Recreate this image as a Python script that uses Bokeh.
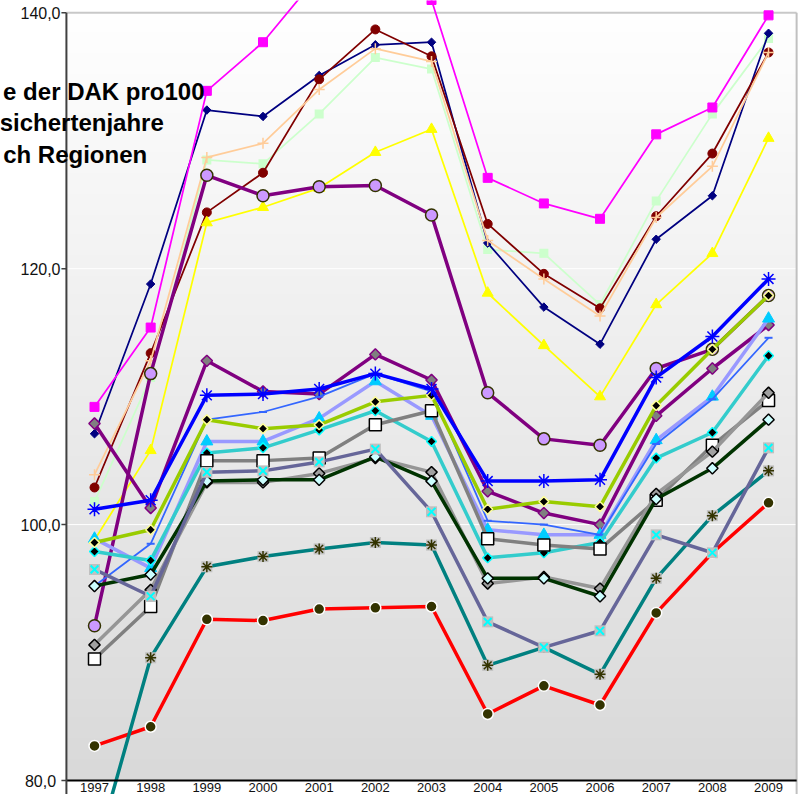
import numpy as np
from bokeh.plotting import figure
from bokeh.models import Range1d
from bokeh.core.properties import value
from bokeh.embed import file_html
from bokeh.resources import INLINE

# ---------------- data ----------------
years = [1997, 1998, 1999, 2000, 2001, 2002, 2003, 2004, 2005, 2006, 2007, 2008, 2009]
x_labels = [str(y) for y in years]
y_ticks = [80, 100, 120, 140]
y_labels = ["80,0", "100,0", "120,0", "140,0"]
title_lines = ["e der DAK pro100", "sichertenjahre", "ch Regionen"]

lightgreen = [101.8, 111.5, 128.5, 128.2, 132.1, 136.5, 135.6, 121.5, 121.2, 117.2, 125.3, 132.1, 138.0]
navy = [107.1, 118.8, 132.4, 131.9, 135.1, 137.5, 137.7, 122.0, 117.0, 114.1, 122.3, 125.7, 138.4]
darkred = [102.9, 113.4, 124.4, 127.5, 134.8, 138.7, 136.6, 123.5, 119.6, 116.9, 124.1, 129.0, 136.9]
peach = [103.9, 112.8, 128.7, 129.8, 134.0, 137.2, 136.2, 122.2, 119.2, 116.3, 124.0, 128.0, 136.9]
magenta = [109.2, 115.4, 133.9, 137.7, 143.0, 144.5, 141.0, 127.1, 125.1, 123.9, 130.5, 132.6, 139.8]
yellow = [98.8, 105.8, 123.6, 124.8, 126.3, 129.1, 130.9, 118.1, 114.0, 110.0, 117.2, 121.2, 130.2]
purple_circ = [92.1, 111.8, 127.3, 125.7, 126.4, 126.5, 124.2, 110.3, 106.7, 106.2, 112.2, 113.7, 117.9]
purple_diam = [107.9, 101.3, 112.8, 110.4, 110.2, 113.3, 111.3, 102.6, 100.9, 100.0, 108.5, 112.2, 115.6]
periwinkle = [98.9, 96.6, 106.5, 106.5, 108.3, 111.2, 108.5, 99.6, 99.2, 99.2, 106.6, 110.0, 116.1]
blue_thin = [95.2, 98.5, 108.2, 108.8, 110.0, 111.8, 110.4, 100.3, 100.0, 99.2, 106.3, 109.8, 114.6]
turquoise = [97.9, 97.2, 105.6, 106.0, 107.4, 108.9, 106.5, 97.4, 97.8, 98.6, 105.2, 107.2, 113.2]
gray_sq = [89.5, 93.6, 105.0, 105.0, 105.2, 107.8, 108.9, 98.9, 98.4, 98.1, 101.9, 106.2, 109.7]
gray_diam = [90.6, 94.9, 103.3, 103.3, 104.0, 105.2, 104.1, 95.4, 95.9, 95.0, 102.4, 105.7, 110.3]
dgreen = [95.2, 96.1, 103.4, 103.5, 103.5, 105.3, 103.4, 95.8, 95.8, 94.4, 102.0, 104.4, 108.2]
ygreen = [98.6, 99.6, 108.2, 107.5, 107.8, 109.6, 110.1, 101.2, 101.8, 101.4, 109.3, 113.7, 117.9]
blue_star = [101.2, 101.9, 110.1, 110.2, 110.6, 111.8, 110.6, 103.4, 103.4, 103.5, 111.5, 114.7, 119.2]
red = [82.7, 84.2, 92.6, 92.5, 93.4, 93.5, 93.6, 85.2, 87.4, 85.9, 93.1, 97.8, 101.7]
teal = [74.0, 89.6, 96.7, 97.5, 98.1, 98.6, 98.4, 89.0, 90.4, 88.3, 95.8, 100.7, 104.2]
slate = [96.5, 94.4, 104.1, 104.2, 104.9, 105.9, 101.0, 92.4, 90.4, 91.7, 99.2, 97.8, 106.0]

# ---------------- layout (pixels on the canvas) ----------------
W, H = 803, 794
X_FIRST_PX = 94.0      # canvas x of the first category centre
UX = 56.17             # pixels per category
Y_TOP_PX = 12.3        # canvas y of the top tick value
Y_BOT_PX = 780.0       # canvas y of the bottom tick value
UY = (Y_BOT_PX - Y_TOP_PX) / (y_ticks[-1] - y_ticks[0])

x_start = years[0] - X_FIRST_PX / UX
x_end = x_start + W / UX
y_end = y_ticks[-1] + Y_TOP_PX / UY
y_start = y_end - H / UY


def dx(cx):
    return x_start + cx / UX


def dy(cy):
    return y_end - cy / UY


X_LO, X_HI = years[0] - 0.5, years[-1] + 0.5
Y_LO, Y_HI = y_ticks[0], y_ticks[-1]

p = figure(width=W, height=H, title=None,
           x_range=Range1d(x_start, x_end), y_range=Range1d(y_start, y_end),
           output_backend="svg", toolbar_location=None,
           x_axis_location=None, y_axis_location=None, min_border=0)
p.outline_line_color = None
p.xgrid.visible = False
p.ygrid.visible = False
p.background_fill_color = "white"
p.border_fill_color = "white"

# gradient plot area
N = 256
img = np.empty((N, 1), dtype=np.uint32)
view = img.view(dtype=np.uint8).reshape((N, 1, 4))
g = np.linspace(217, 255, N).astype(np.uint8)
view[:, 0, 0] = g
view[:, 0, 1] = g
view[:, 0, 2] = g
view[:, 0, 3] = 255
p.image_rgba(image=[img], x=X_LO, y=Y_LO, dw=X_HI - X_LO, dh=Y_HI - Y_LO)

# grid lines
inner = y_ticks[1:-1]
p.segment(x0=[X_LO] * len(inner), y0=inner, x1=[X_HI] * len(inner), y1=inner,
          line_color="white", line_width=1)
# top and right border
p.segment(x0=[X_LO], y0=[Y_HI], x1=[X_HI], y1=[Y_HI], line_color="#C8C8C8", line_width=2)
p.segment(x0=[X_HI], y0=[Y_HI], x1=[X_HI], y1=[y_start], line_color="#C0C0C0", line_width=2)

thin = 1.75
thick = 3.5
D = np.pi / 4


def series(vals, color, lw):
    p.line(years, vals, line_color=color, line_width=lw)


series(lightgreen, "#CCFFCC", thin)
p.scatter(years, lightgreen, marker="square", size=9, fill_color="#CCFFCC", line_color=None)
series(navy, "#000080", thin)
p.scatter(years, navy, marker="square", angle=D, size=6, fill_color="#000080", line_color="#000080")
series(darkred, "#800000", thin)
p.scatter(years, darkred, marker="circle", size=9, fill_color="#800000", line_color="#800000")
series(peach, "#FFCC99", thin)
p.scatter(years, peach, marker="cross", size=11, line_color="#FFCC99", line_width=1.5)
series(magenta, "#FF00FF", thin)
p.scatter(years, magenta, marker="square", size=9, fill_color="#FF00FF", line_color="#FF00FF")
series(yellow, "#FFFF00", thin)
p.scatter(years, yellow, marker="triangle", size=11, fill_color="#FFFF00", line_color="#FFFF00")
series(purple_circ, "#800080", thick)
p.scatter(years, purple_circ, marker="circle", size=12, fill_color="#CC99FF", line_color="#333300", line_width=1.5)
series(purple_diam, "#800080", thick)
p.scatter(years, purple_diam, marker="square", angle=D, size=8, fill_color="#808080", line_color="#800080", line_width=1.5)
series(periwinkle, "#9999FF", thick)
p.scatter(years, periwinkle, marker="triangle", size=12, fill_color="#00CCFF", line_color="#00CCFF")
series(blue_thin, "#3366FF", thin)
p.scatter(years, blue_thin, marker="dash", size=8, line_color="#3366FF", line_width=2)
series(turquoise, "#33CCCC", thick)
p.scatter(years, turquoise, marker="square", angle=D, size=7, fill_color="black", line_color="#00FFFF", line_width=1.5)
series(gray_sq, "#808080", thick)
p.scatter(years, gray_sq, marker="square", size=12, fill_color="white", line_color="black", line_width=1.5)
series(gray_diam, "#969696", thick)
p.scatter(years, gray_diam, marker="square", angle=D, size=8, fill_color="#A0A0A0", line_color="black", line_width=1.5)
series(dgreen, "#003300", thick)
p.scatter(years, dgreen, marker="square", angle=D, size=8, fill_color="#CCFFFF", line_color="black", line_width=1.5)
series(ygreen, "#99CC00", thick)
p.scatter(years, ygreen, marker="square", angle=D, size=7, fill_color="black", line_color="#FFFF99", line_width=1.5)
series(blue_star, "#0000FF", thick)
p.scatter(years, blue_star, marker="asterisk", size=14, line_color="#0000FF", line_width=1.5)
series(red, "#FF0000", thick)
p.scatter(years, red, marker="circle", size=11, fill_color="#333300", line_color="white", line_width=1.5)
series(teal, "#008080", thick)
p.scatter(years, teal, marker="square", size=11, fill_color="#C0C0C0", line_color=None)
p.scatter(years, teal, marker="asterisk", size=11, line_color="#333300", line_width=1.5)
series(slate, "#666699", thick)
p.scatter(years, slate, marker="square", size=11, fill_color="#C0C0C0", line_color=None)
p.scatter(years, slate, marker="x", size=11, line_color="#00FFFF", line_width=2)

# axes (drawn on top)
p.segment(x0=[X_LO], y0=[Y_LO], x1=[X_HI], y1=[Y_LO], line_color="black", line_width=2)
p.segment(x0=[X_LO], y0=[y_start], x1=[X_LO], y1=[Y_HI], line_color="#404040", line_width=2)
p.segment(x0=[X_LO - 5 / UX] * len(y_ticks), y0=y_ticks, x1=[X_LO] * len(y_ticks), y1=y_ticks,
          line_color="#404040", line_width=1.5)
p.text(x=[dx(40)] * len(y_ticks), y=y_ticks, text=y_labels,
       text_align="center", text_baseline="middle",
       text_font=value("Liberation Sans"), text_font_size="16px", text_color="#111111")
p.text(x=years, y=[dy(786.5)] * len(years), text=x_labels,
       text_align="center", text_baseline="alphabetic",
       text_font=value("Liberation Sans"), text_font_size="13px", text_color="#111111")

# title fragment
p.text(x=[dx(204), dx(163.3), dx(146.7)], y=[dy(90.5), dy(122.2), dy(154)], text=title_lines,
       text_align="right", text_baseline="alphabetic",
       text_font=value("Liberation Sans"), text_font_style="bold",
       text_font_size="24px", text_color="black")

open("out.html", "w").write(file_html(p, INLINE))
